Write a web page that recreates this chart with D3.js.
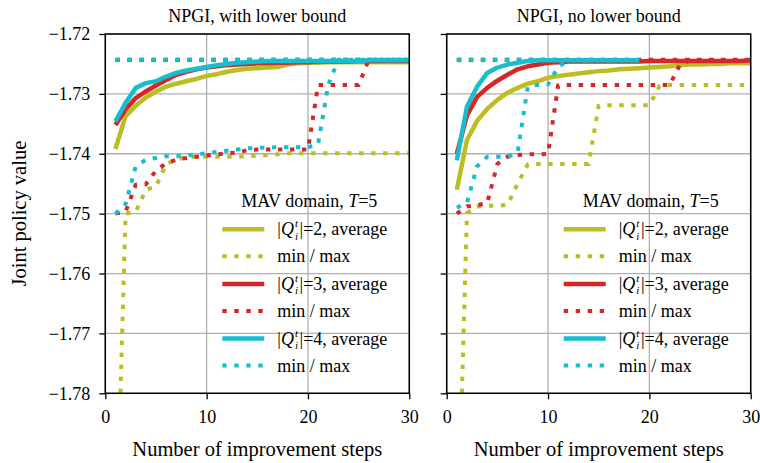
<!DOCTYPE html>
<html>
<head>
<meta charset="utf-8">
<script src="https://cdn.jsdelivr.net/npm/d3@7/dist/d3.min.js"></script>
<style>
body { margin: 0; background: #fff; }
text { font-family: "Liberation Serif", "Times New Roman", Times, serif; fill: #000; }
</style>
</head>
<body>
<script>
// improvement steps (x)
var steps = [1,2,3,4,5,6,7,8,9,10,11,12,13,14,15,16,17,18,19,20,21,22,23,24,25,26,27,28,29,30]

var xTicks = [0, 10, 20, 30]
var yTicks = [-1.72, -1.73, -1.74, -1.75, -1.76, -1.77, -1.78]
var titles = ["NPGI, with lower bound", "NPGI, no lower bound"]
var qSizes = [2, 3, 4]

// NPGI, with lower bound
var lbAvg2 = [-1.7392,-1.7337,-1.7320,-1.7306,-1.7296,-1.7288,-1.7283,-1.7279,-1.7275,-1.7270,-1.7267,-1.7263,-1.7260,-1.7258,-1.7257,-1.7256,-1.7255,-1.7251,-1.7249,-1.7248,-1.7248,-1.7247,-1.7247,-1.7247,-1.7247,-1.7247,-1.7247,-1.7247,-1.7247,-1.7247]
var lbMin2 = [-1.8100,-1.7500,-1.7497,-1.7460,-1.7455,-1.7417,-1.7410,-1.7405,-1.7405,-1.7405,-1.7405,-1.7405,-1.7405,-1.7404,-1.7403,-1.7402,-1.7401,-1.7399,-1.7399,-1.7399,-1.7399,-1.7399,-1.7399,-1.7399,-1.7399,-1.7399,-1.7399,-1.7399,-1.7399,-1.7399]
var lbMax2 = [-1.7244,-1.7244,-1.7244,-1.7244,-1.7244,-1.7244,-1.7244,-1.7244,-1.7244,-1.7244,-1.7244,-1.7244,-1.7244,-1.7244,-1.7244,-1.7244,-1.7244,-1.7244,-1.7244,-1.7244,-1.7244,-1.7244,-1.7244,-1.7244,-1.7244,-1.7244,-1.7244,-1.7244,-1.7244,-1.7244]
var lbAvg3 = [-1.7352,-1.7326,-1.7307,-1.7296,-1.7286,-1.7277,-1.7268,-1.7263,-1.7259,-1.7256,-1.7254,-1.7252,-1.7251,-1.7250,-1.7249,-1.7249,-1.7248,-1.7248,-1.7247,-1.7247,-1.7246,-1.7246,-1.7246,-1.7246,-1.7245,-1.7245,-1.7245,-1.7245,-1.7245,-1.7245]
var lbMin3 = [-1.7500,-1.7497,-1.7452,-1.7451,-1.7428,-1.7416,-1.7410,-1.7407,-1.7405,-1.7403,-1.7401,-1.7399,-1.7398,-1.7394,-1.7393,-1.7393,-1.7393,-1.7393,-1.7393,-1.7393,-1.7285,-1.7285,-1.7285,-1.7285,-1.7285,-1.7243,-1.7243,-1.7243,-1.7243,-1.7243]
var lbMax3 = [-1.7243,-1.7243,-1.7243,-1.7243,-1.7243,-1.7243,-1.7243,-1.7243,-1.7243,-1.7243,-1.7243,-1.7243,-1.7243,-1.7243,-1.7243,-1.7243,-1.7243,-1.7243,-1.7243,-1.7243,-1.7243,-1.7243,-1.7243,-1.7243,-1.7243,-1.7243,-1.7243,-1.7243,-1.7243,-1.7243]
var lbAvg4 = [-1.7346,-1.7315,-1.7290,-1.7282,-1.7279,-1.7271,-1.7265,-1.7261,-1.7258,-1.7255,-1.7252,-1.7250,-1.7248,-1.7247,-1.7246,-1.7245,-1.7245,-1.7245,-1.7245,-1.7245,-1.7245,-1.7245,-1.7245,-1.7245,-1.7245,-1.7244,-1.7244,-1.7244,-1.7244,-1.7244]
var lbMin4 = [-1.7500,-1.7484,-1.7421,-1.7410,-1.7407,-1.7404,-1.7404,-1.7403,-1.7401,-1.7399,-1.7397,-1.7395,-1.7393,-1.7391,-1.7390,-1.7390,-1.7389,-1.7389,-1.7389,-1.7389,-1.7384,-1.7285,-1.7243,-1.7243,-1.7243,-1.7243,-1.7243,-1.7243,-1.7243,-1.7243]
var lbMax4 = [-1.7243,-1.7243,-1.7243,-1.7243,-1.7243,-1.7243,-1.7243,-1.7243,-1.7243,-1.7243,-1.7243,-1.7243,-1.7243,-1.7243,-1.7243,-1.7243,-1.7243,-1.7243,-1.7243,-1.7243,-1.7243,-1.7243,-1.7243,-1.7243,-1.7243,-1.7243,-1.7243,-1.7243,-1.7243,-1.7243]

// NPGI, no lower bound (|Q|=4 runs stop after 19 steps)
var nbAvg2 = [-1.7460,-1.7377,-1.7345,-1.7325,-1.7310,-1.7298,-1.7290,-1.7283,-1.7279,-1.7273,-1.7270,-1.7268,-1.7266,-1.7264,-1.7262,-1.7261,-1.7259,-1.7258,-1.7257,-1.7256,-1.7255,-1.7254,-1.7252,-1.7251,-1.7251,-1.7250,-1.7250,-1.7249,-1.7249,-1.7249]
var nbMin2 = [-1.8100,-1.7499,-1.7488,-1.7487,-1.7487,-1.7485,-1.7450,-1.7418,-1.7417,-1.7417,-1.7417,-1.7417,-1.7417,-1.7417,-1.7320,-1.7319,-1.7319,-1.7319,-1.7319,-1.7319,-1.7287,-1.7285,-1.7285,-1.7285,-1.7285,-1.7285,-1.7285,-1.7285,-1.7285,-1.7285]
var nbMax2 = [-1.7244,-1.7244,-1.7244,-1.7244,-1.7244,-1.7244,-1.7244,-1.7244,-1.7244,-1.7244,-1.7244,-1.7244,-1.7244,-1.7244,-1.7244,-1.7244,-1.7244,-1.7244,-1.7244,-1.7244,-1.7244,-1.7244,-1.7244,-1.7244,-1.7244,-1.7244,-1.7244,-1.7244,-1.7244,-1.7244]
var nbAvg3 = [-1.7400,-1.7336,-1.7305,-1.7290,-1.7278,-1.7268,-1.7259,-1.7254,-1.7251,-1.7248,-1.7247,-1.7246,-1.7246,-1.7246,-1.7246,-1.7246,-1.7246,-1.7246,-1.7246,-1.7245,-1.7245,-1.7245,-1.7245,-1.7245,-1.7245,-1.7245,-1.7245,-1.7245,-1.7245,-1.7244]
var nbMin3 = [-1.7500,-1.7488,-1.7486,-1.7482,-1.7417,-1.7405,-1.7402,-1.7401,-1.7401,-1.7400,-1.7286,-1.7285,-1.7285,-1.7285,-1.7285,-1.7285,-1.7285,-1.7285,-1.7285,-1.7285,-1.7285,-1.7285,-1.7252,-1.7244,-1.7244,-1.7244,-1.7244,-1.7244,-1.7244,-1.7244]
var nbMax3 = [-1.7243,-1.7243,-1.7243,-1.7243,-1.7243,-1.7243,-1.7243,-1.7243,-1.7243,-1.7243,-1.7243,-1.7243,-1.7243,-1.7243,-1.7243,-1.7243,-1.7243,-1.7243,-1.7243,-1.7243,-1.7243,-1.7243,-1.7243,-1.7243,-1.7243,-1.7243,-1.7243,-1.7243,-1.7243,-1.7243]
var nbAvg4 = [-1.7411,-1.7321,-1.7288,-1.7265,-1.7256,-1.7251,-1.7248,-1.7245,-1.7244,-1.7244,-1.7244,-1.7244,-1.7244,-1.7244,-1.7244,-1.7244,-1.7244,-1.7244,-1.7244]
var nbMin4 = [-1.7490,-1.7482,-1.7421,-1.7405,-1.7405,-1.7405,-1.7398,-1.7288,-1.7285,-1.7284,-1.7255,-1.7244,-1.7244,-1.7244,-1.7244,-1.7244,-1.7244,-1.7244,-1.7244]
var nbMax4 = [-1.7243,-1.7243,-1.7243,-1.7243,-1.7243,-1.7243,-1.7243,-1.7243,-1.7243,-1.7243,-1.7243,-1.7243,-1.7243,-1.7243,-1.7243,-1.7243,-1.7243,-1.7243,-1.7243]

var colors = ["#bcbd22", "#d62728", "#17becf"]

var screen = {width: 760, height: 463}
var panelW = 304, panelH = 359.3, panelTop = 34
var panels = [
  {left: 105.3, title: titles[0], labels: true,
   series: [[lbAvg2, lbMin2, lbMax2], [lbAvg3, lbMin3, lbMax3], [lbAvg4, lbMin4, lbMax4]]},
  {left: 446.7, title: titles[1], labels: false,
   series: [[nbAvg2, nbMin2, nbMax2], [nbAvg3, nbMin3, nbMax3], [nbAvg4, nbMin4, nbMax4]]}
]

var svg = d3.select("body")
            .append("svg")
            .attr("width", screen.width)
            .attr("height", screen.height)
            .attr("font-family", "Liberation Serif, Times New Roman, serif");

var x = d3.scaleLinear().domain([0, 30]).range([0, panelW]);
var y = d3.scaleLinear().domain([-1.78, -1.72]).range([panelH, 0]);

var line = d3.line()
             .x(function(d, i) { return x(steps[i]); })
             .y(function(d) { return y(d); });

var fmt = function(d) { return "\u2212" + Math.abs(d).toFixed(2); }

var drawPanel = function(p, k)
{
  var g = svg.append("g")
             .attr("transform", "translate(" + p.left + "," + panelTop + ")");

  g.append("clipPath")
   .attr("id", "clip" + k)
   .append("rect")
   .attr("width", panelW)
   .attr("height", panelH);

  // grid
  g.selectAll(".gx")
   .data(xTicks)
   .enter()
   .append("line")
   .attr("x1", function(d) { return x(d); })
   .attr("x2", function(d) { return x(d); })
   .attr("y1", 0)
   .attr("y2", panelH)
   .attr("stroke", "#b0b0b0")
   .attr("stroke-width", 1.3);

  g.selectAll(".gy")
   .data(yTicks)
   .enter()
   .append("line")
   .attr("x1", 0)
   .attr("x2", panelW)
   .attr("y1", function(d) { return y(d); })
   .attr("y2", function(d) { return y(d); })
   .attr("stroke", "#b0b0b0")
   .attr("stroke-width", 1.3);

  var lines = g.append("g").attr("clip-path", "url(#clip" + k + ")");

  p.series.forEach(function(s, j)
  {
    lines.append("path")
         .attr("d", line(s[0]))
         .attr("fill", "none")
         .attr("stroke", colors[j])
         .attr("stroke-width", 4.5)
         .attr("stroke-linejoin", "round");

    [s[1], s[2]].forEach(function(arr)
    {
      lines.append("path")
           .attr("d", line(arr))
           .attr("fill", "none")
           .attr("stroke", colors[j])
           .attr("stroke-width", 4)
           .attr("stroke-dasharray", "4.4,7.6");
    })
  })

  // axes
  var xa = g.append("g")
            .attr("transform", "translate(0," + panelH + ")")
            .call(d3.axisBottom(x).tickValues(xTicks).tickSize(6).tickPadding(10.5));
  var ya = g.append("g")
            .call(d3.axisLeft(y).tickValues(yTicks).tickSize(6).tickPadding(9)
                    .tickFormat(p.labels ? fmt : ""));

  [xa, ya].forEach(function(a)
  {
    a.attr("font-family", null);
    a.select(".domain").remove();
    a.selectAll("line").attr("stroke", "#000").attr("stroke-width", 1.3);
    a.selectAll("text")
     .attr("font-size", 18)
     .attr("fill", "#000");
  })

  g.append("rect")
   .attr("width", panelW)
   .attr("height", panelH)
   .attr("fill", "none")
   .attr("stroke", "#000")
   .attr("stroke-width", 1.5);

  g.append("text")
   .attr("x", panelW / 2)
   .attr("y", -12.3)
   .attr("text-anchor", "middle")
   .attr("font-size", 18)
   .text(p.title);

  g.append("text")
   .attr("x", panelW / 2)
   .attr("y", 422)
   .attr("text-anchor", "middle")
   .attr("font-size", 20.5)
   .text("Number of improvement steps");

  // legend, no frame
  var leg = g.append("g")
             .attr("transform", "translate(" + (panelW - 187) + ",0)");

  var ttl = leg.append("text")
               .attr("x", 87)
               .attr("y", 206.7 - panelTop)
               .attr("text-anchor", "middle")
               .attr("font-size", 18);
  ttl.append("tspan").text("MAV domain, ");
  ttl.append("tspan").attr("font-style", "italic").text("T");
  ttl.append("tspan").text("=5");

  qSizes.forEach(function(q, j)
  {
    var y0 = 229.3 - panelTop + j * 54.6;
    var y1 = y0 + 27;

    leg.append("line")
       .attr("x1", 0).attr("x2", 42)
       .attr("y1", y0).attr("y2", y0)
       .attr("stroke", colors[j])
       .attr("stroke-width", 4.5);

    leg.append("line")
       .attr("x1", 0).attr("x2", 42)
       .attr("y1", y1).attr("y2", y1)
       .attr("stroke", colors[j])
       .attr("stroke-width", 4)
       .attr("stroke-dasharray", "4.4,7.6");

    var t = leg.append("text")
               .attr("x", 55)
               .attr("y", y0 + 6)
               .attr("font-size", 18);
    t.append("tspan").text("|");
    t.append("tspan").attr("font-style", "italic").text("Q");
    t.append("tspan").attr("font-style", "italic").attr("font-size", 11).attr("dy", -8).attr("dx", 1).text("t");
    t.append("tspan").attr("font-style", "italic").attr("font-size", 11).attr("dy", 12.5).attr("dx", -3).text("i");
    t.append("tspan").attr("dy", -4.5).attr("dx", 1.5).text("|=" + q + ", average");

    leg.append("text")
       .attr("x", 55)
       .attr("y", y1 + 6)
       .attr("font-size", 18)
       .text("min / max");
  })
}

panels.forEach(drawPanel);

svg.append("text")
   .attr("transform", "translate(26," + (panelTop + panelH / 2) + ") rotate(-90)")
   .attr("text-anchor", "middle")
   .attr("font-size", 20.5)
   .text("Joint policy value");
</script>
</body>
</html>
